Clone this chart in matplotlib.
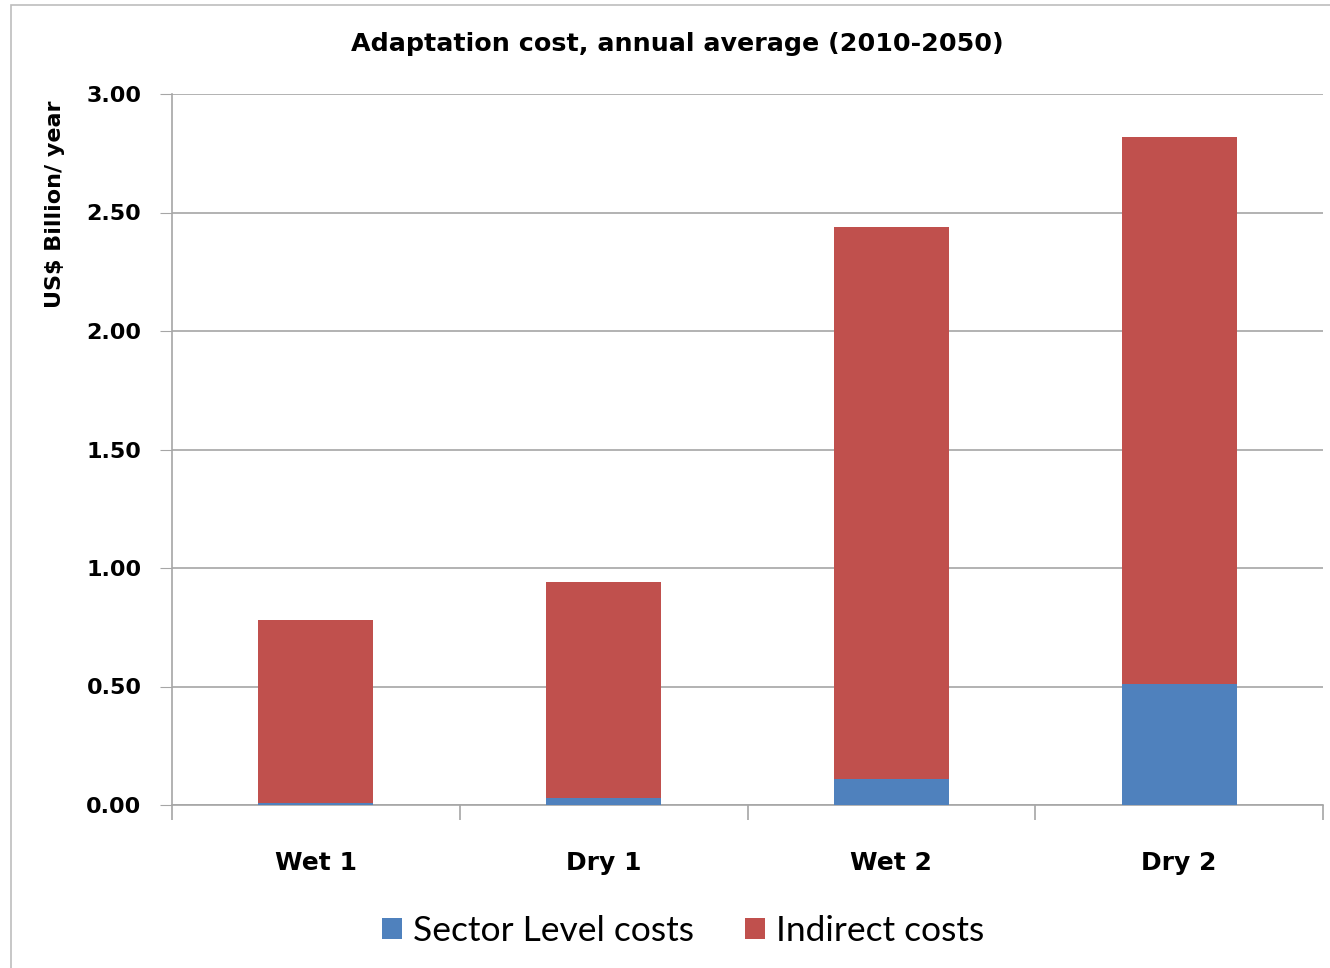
import numpy as np
import matplotlib.pyplot as plt
from matplotlib.patches import Rectangle

scenarios = ['Wet 1', 'Dry 1', 'Wet 2', 'Dry 2']
sector_costs = [0.01, 0.03, 0.11, 0.51]
indirect_costs = [0.77, 0.91, 2.33, 2.31]
y_ticks = [0.0, 0.5, 1.0, 1.5, 2.0, 2.5, 3.0]

plt.rcParams['font.family'] = ['DejaVu Sans']

fig = plt.figure(figsize=(13.3, 9.68), dpi=100)
ax = fig.add_axes([172/1330, 1 - 805/968, (1323-172)/1330, (805-94)/968])

# outer chart border
fig.patches.append(Rectangle((11/1330, -0.01), 1.05, 1 - 5/968 + 0.01,
                             transform=fig.transFigure, fill=False,
                             edgecolor='#bdbdbd', lw=1.2))

x = np.arange(len(scenarios))
ax.bar(x, sector_costs, width=0.4, color='#4F81BD', label='Sector Level costs', zorder=3)
ax.bar(x, indirect_costs, width=0.4, bottom=sector_costs, color='#C0504D',
       label='Indirect costs', zorder=3)

ax.set_xlim(-0.5, len(scenarios) - 0.5)
ax.set_ylim(0, 3.0)
ax.set_yticks(y_ticks)
ax.set_yticklabels(['%.2f' % v for v in y_ticks], fontsize=16, fontweight='bold')
ax.yaxis.grid(True, color='#a6a6a6', lw=1.2, zorder=0)
ax.tick_params(axis='y', length=9, color='#a6a6a6', pad=13)

# category labels between boundary ticks
ax.set_xticks(np.arange(len(scenarios) + 1) - 0.5)
ax.set_xticklabels([])
ax.set_xticks(x, minor=True)
ax.set_xticklabels(scenarios, minor=True, fontsize=18, fontweight='bold')
ax.tick_params(axis='x', which='major', length=11, color='#a6a6a6', width=1.2)
ax.tick_params(axis='x', which='minor', length=0, pad=33)

for side in ['top', 'right']:
    ax.spines[side].set_visible(False)
ax.spines['left'].set_color('#a6a6a6')
ax.spines['bottom'].set_color('#a6a6a6')
ax.spines['left'].set_linewidth(1.2)
ax.spines['bottom'].set_linewidth(1.2)

fig.text(677/1330, 1 - 44/968, 'Adaptation cost, annual average (2010-2050)',
         ha='center', va='center', fontsize=18.3, fontweight='bold')
fig.text(55/1330, 1 - 100/968, 'US$ Billion/ year', rotation=90,
         ha='center', va='top', fontsize=16, fontweight='bold')

fig.legend(loc='center', bbox_to_anchor=(683/1330, 1 - 931/968), ncol=2,
           frameon=False, prop={'family': 'Lato', 'size': 25.5},
           handlelength=0.56, handleheight=0.56,
           handletextpad=0.31, columnspacing=1.45)

fig.savefig('out.png', dpi=100)
